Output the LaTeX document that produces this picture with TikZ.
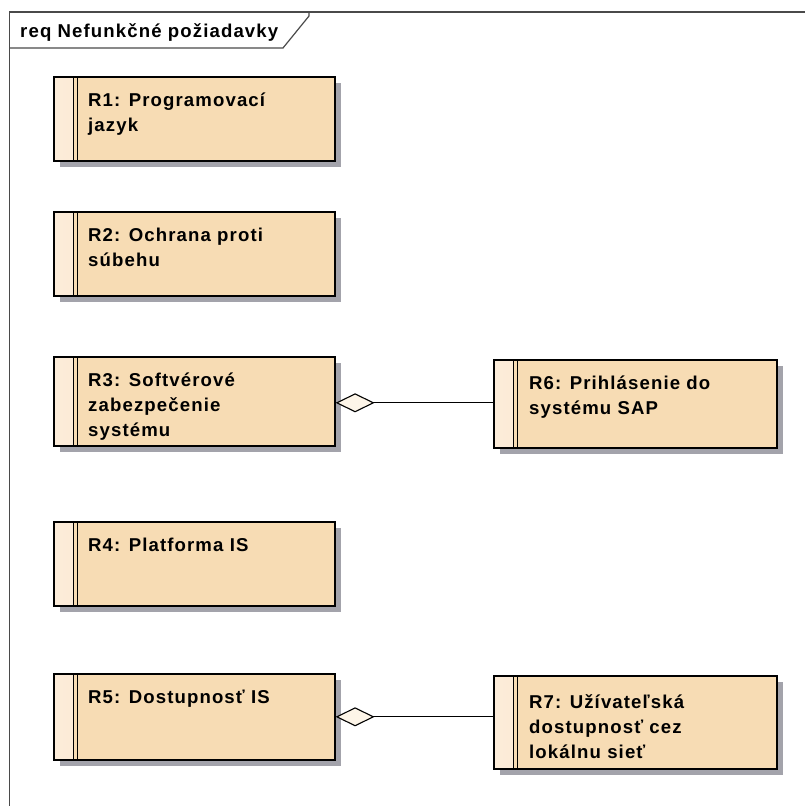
\documentclass[tikz,border=0pt]{standalone}
\usepackage{fontspec}
\newfontfamily\reqfont{Liberation Sans}[LetterSpace=6]
\usetikzlibrary{arrows.meta,shadows}

\definecolor{boxfill}{HTML}{F7DCB4}
\definecolor{stripfill}{HTML}{FCECD9}
\definecolor{shadowgray}{HTML}{A3A3AB}
\definecolor{diafill}{HTML}{FDF5E8}
\definecolor{framecol}{HTML}{4A4A4A}

\tikzset{
  reqbox/.style={
    rectangle, draw=black, line width=1.6pt, fill=boxfill,
    inner sep=0pt, anchor=north west, minimum width=#1,
    drop shadow={shadow xshift=6pt, shadow yshift=-6pt, fill=shadowgray, opacity=1},
    path picture={
      \shade[left color=stripfill, right color=boxfill]
        (path picture bounding box.north west) rectangle ([xshift=20pt]path picture bounding box.south west);
      \draw[line width=1pt] ([xshift=20pt]path picture bounding box.north west) -- ([xshift=20pt]path picture bounding box.south west);
      \draw[line width=1pt] ([xshift=24pt]path picture bounding box.north west) -- ([xshift=24pt]path picture bounding box.south west);
    }
  },
  reqtext/.style={
    anchor=north west, inner sep=0pt, align=left,
    font=\reqfont\bfseries\fontsize{18.6}{25}\selectfont
  },
  aggr/.style={
    line width=1.1pt,
    {Diamond[length=39pt, width=19pt, fill=diafill, line width=1.1pt]}-
  }
}
\newcommand{\fl}{\rule{0pt}{18pt}}

\begin{document}
\begin{tikzpicture}[x=1pt, y=-1pt]
  \useasboundingbox (0,0) rectangle (805,806);

  % diagram frame with name tab
  \draw[framecol, line width=1.4pt] (9.5,806) -- (9.5,12) -- (805,12);
  \draw[framecol, line width=1.2pt] (9.5,48) -- (283,48) -- (309,16) -- (309,12);
  \node[anchor=base west, inner sep=0pt, font=\reqfont\bfseries\fontsize{18.6}{21}\selectfont]
    (title) at (20,37) {req Nefunkčné požiadavky};

  % requirements, left column
  \node[reqbox=281pt, minimum height=84pt] (R1) at (53,76) {};
  \node[reqbox=281pt, minimum height=84pt] (R2) at (53,211) {};
  \node[reqbox=281pt, minimum height=89pt] (R3) at (53,356) {};
  \node[reqbox=281pt, minimum height=84pt] (R4) at (53,521) {};
  \node[reqbox=281pt, minimum height=86pt] (R5) at (53,673) {};

  % requirements, right column
  \node[reqbox=283pt, minimum height=88pt] (R6) at (493,359) {};
  \node[reqbox=283pt, minimum height=93pt] (R7) at (493,675) {};

  % requirement names
  \node[reqtext] (R1t) at ([shift={(35,12)}]R1.north west) {\fl R1: Programovací\\jazyk};
  \node[reqtext] (R2t) at ([shift={(35,12)}]R2.north west) {\fl R2: Ochrana proti\\súbehu};
  \node[reqtext] (R3t) at ([shift={(35,12)}]R3.north west) {\fl R3: Softvérové\\zabezpečenie\\systému};
  \node[reqtext] (R4t) at ([shift={(35,12)}]R4.north west) {\fl R4: Platforma IS};
  \node[reqtext] (R5t) at ([shift={(35,12)}]R5.north west) {\fl R5: Dostupnosť IS};
  \node[reqtext] (R6t) at ([shift={(36,12)}]R6.north west) {\fl R6: Prihlásenie do\\systému SAP};
  \node[reqtext] (R7t) at ([shift={(36,15)}]R7.north west) {\fl R7: Užívateľská\\dostupnosť cez\\lokálnu sieť};

  % aggregation links
  \draw[aggr] ([yshift=-1.5pt]R3.east) -- ([yshift=-1.5pt]R3.east -| R6.west);
  \draw[aggr] (R5.east) -- (R5.east -| R7.west);
\end{tikzpicture}
\end{document}
